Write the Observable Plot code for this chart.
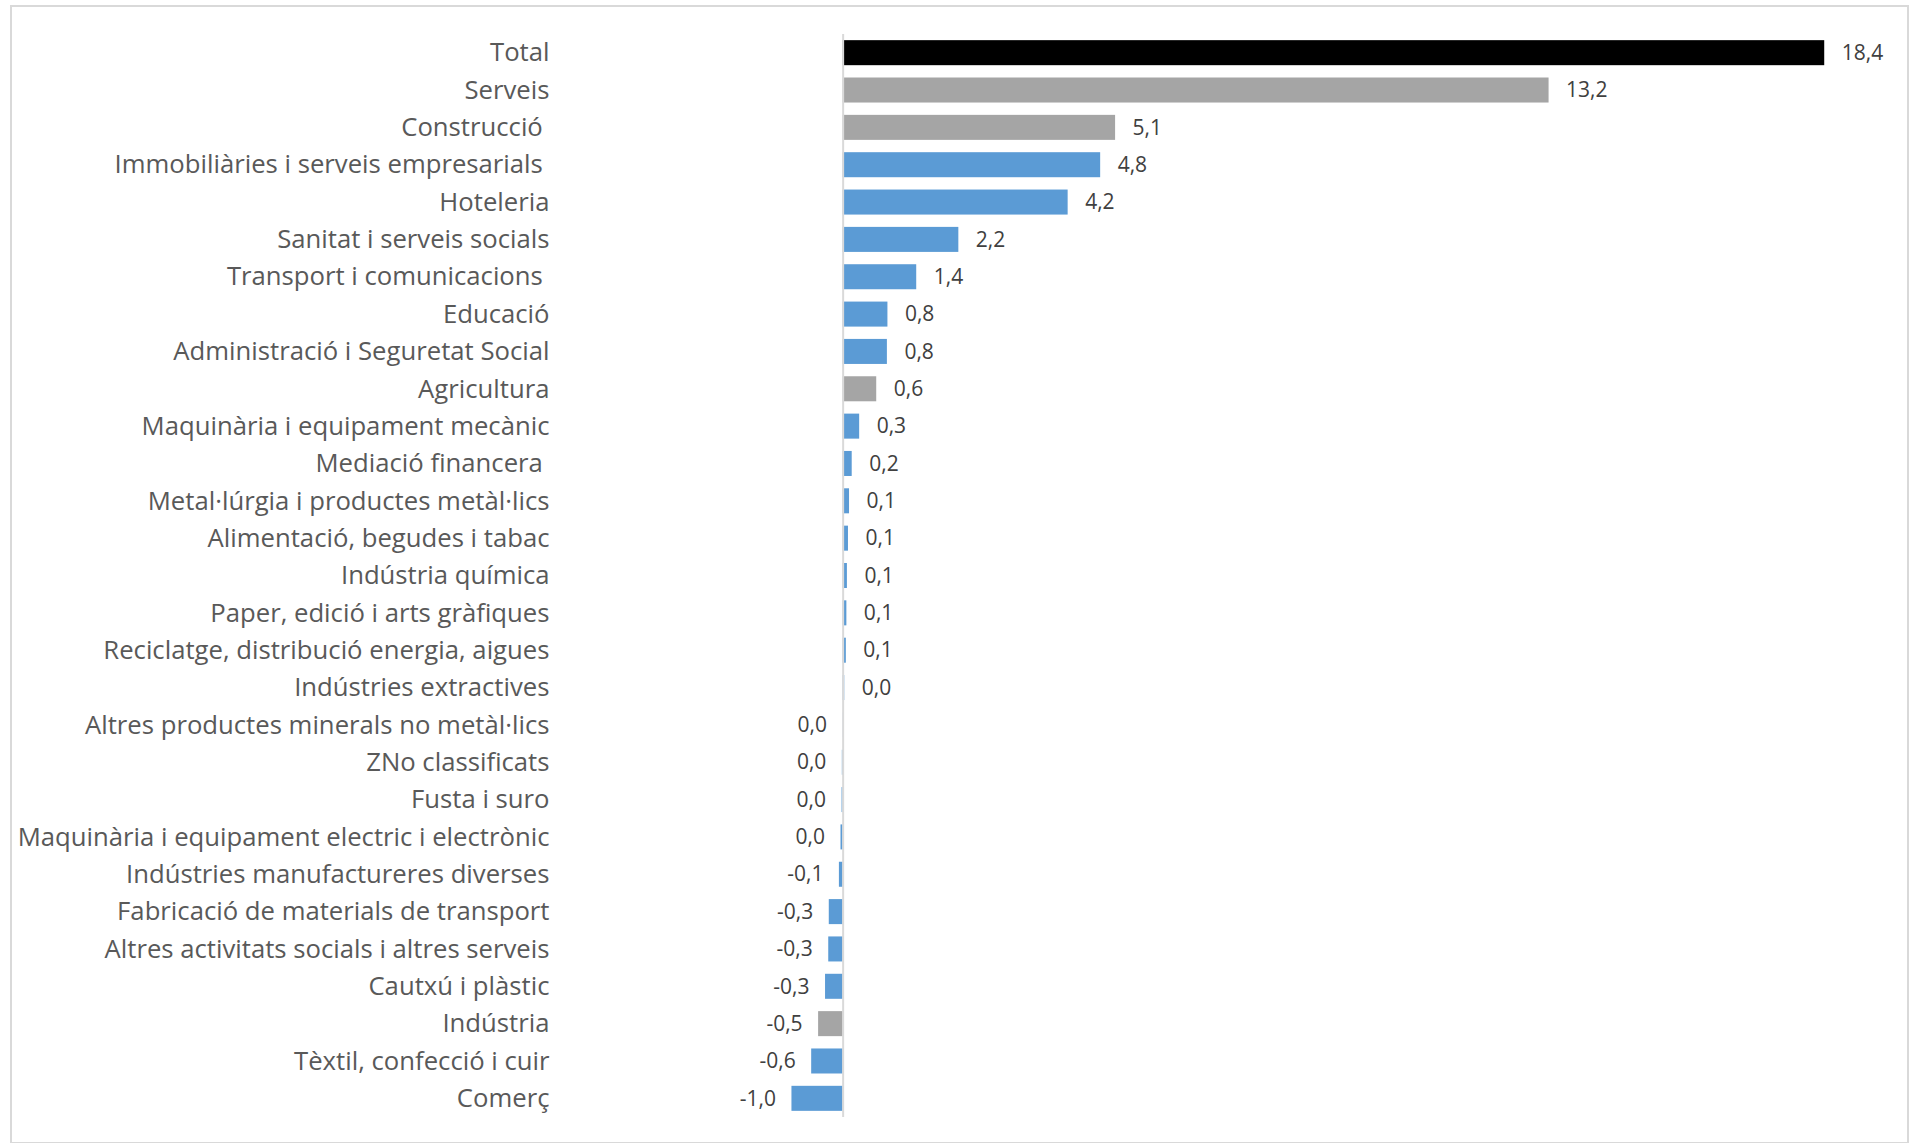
<!DOCTYPE html>
<html>
<head>
<meta charset="utf-8">
<script src="https://cdn.jsdelivr.net/npm/d3@7"></script>
<script src="https://cdn.jsdelivr.net/npm/@observablehq/plot@0.6"></script>
<style>
  html, body { margin: 0; padding: 0; background: #ffffff; }
  #chart { position: absolute; left: 0; top: 0; }
  #frame { position: absolute; left: 10px; top: 5px; width: 1899px; height: 1139px;
           box-sizing: border-box; border: 2px solid #D9D9D9; pointer-events: none; }
  svg text { white-space: pre; }
</style>
</head>
<body>
<div id="chart"></div>
<div id="frame"></div>
<script>
const categories = [
  "Total",
  "Serveis",
  "Construcció ",
  "Immobiliàries i serveis empresarials ",
  "Hoteleria",
  "Sanitat i serveis socials",
  "Transport i comunicacions ",
  "Educació",
  "Administració i Seguretat Social",
  "Agricultura",
  "Maquinària i equipament mecànic",
  "Mediació financera ",
  "Metal·lúrgia i productes metàl·lics",
  "Alimentació, begudes i tabac",
  "Indústria química",
  "Paper, edició i arts gràfiques",
  "Reciclatge, distribució energia, aigues",
  "Indústries extractives",
  "Altres productes minerals no metàl·lics",
  "ZNo classificats",
  "Fusta i suro",
  "Maquinària i equipament electric i electrònic",
  "Indústries manufactureres diverses",
  "Fabricació de materials de transport",
  "Altres activitats socials i altres serveis",
  "Cautxú i plàstic",
  "Indústria",
  "Tèxtil, confecció i cuir",
  "Comerç"
];

const values = [
  18.41, 13.24, 5.11, 4.83, 4.22, 2.17, 1.38, 0.84, 0.83, 0.63,
  0.31, 0.17, 0.12, 0.10, 0.08, 0.07, 0.06, 0.03, -0.003, -0.015,
  -0.02, -0.04, -0.07, -0.26, -0.27, -0.33, -0.46, -0.59, -0.96
];

const groups = [
  "total", "sector", "sector", "branch", "branch", "branch", "branch", "branch", "branch", "sector",
  "branch", "branch", "branch", "branch", "branch", "branch", "branch", "branch", "branch", "branch",
  "branch", "branch", "branch", "branch", "branch", "branch", "sector", "branch", "branch"
];

const groupNames = ["total", "sector", "branch"];
const groupColors = ["#000000", "#A5A5A5", "#5B9BD5"];

const data = categories.map((name, i) => ({name, value: values[i], group: groups[i]}));

const fmt = v => {
  let s = v.toFixed(1);
  if (s === "-0.0") s = "0.0";
  return s.replace(".", ",");
};

const chart = Plot.plot({
  width: 1909,
  height: 1143,
  marginTop: 34,
  marginBottom: 26,
  marginLeft: 736,
  marginRight: 0,
  style: {fontFamily: "'Open Sans', sans-serif", fontSize: "25.7px", color: "#595959", background: "transparent"},
  x: {domain: [-2, 20], axis: null},
  y: {domain: categories, paddingInner: 0.33, paddingOuter: 0.165, round: false, axis: null},
  color: {domain: groupNames, range: groupColors},
  marks: [
    Plot.barX(data, {x: "value", y: "name", fill: "group"}),
    Plot.ruleX([0], {stroke: "#D9D9D9", strokeWidth: 2}),
    Plot.axisY({tickSize: 0, tickPadding: 187, fontSize: 25.7, fill: "#595959", label: null}),
    Plot.text(data.filter(d => d.value >= 0), {
      x: "value", y: "name", text: d => fmt(d.value),
      textAnchor: "start", dx: 17, fontSize: 21, fill: "#404040"
    }),
    Plot.text(data.filter(d => d.value < 0), {
      x: "value", y: "name", text: d => fmt(d.value),
      textAnchor: "end", dx: -16, fontSize: 21, fill: "#404040"
    })
  ]
});

document.getElementById("chart").appendChild(chart);
</script>
</body>
</html>
